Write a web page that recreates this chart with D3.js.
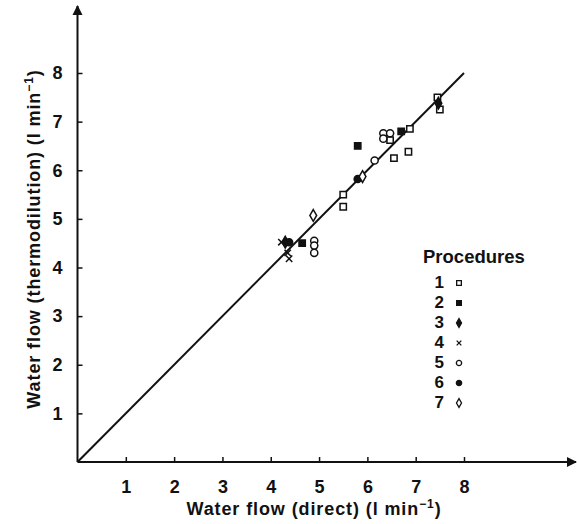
<!DOCTYPE html>
<html>
<head>
<meta charset="utf-8">
<script src="https://cdn.jsdelivr.net/npm/d3@7"></script>
<style>
  body { margin: 0; background: #fff; }
  svg text { font-family: "Liberation Sans", Arial, sans-serif; font-weight: bold; fill: #111; }
</style>
</head>
<body>
<div id="chart"></div>
<script>
// procedures, one array of [direct, thermodilution] pairs each
const procedures = ["1", "2", "3", "4", "5", "6", "7"];
const proc1 = [[5.5, 5.5], [5.5, 5.25], [6.55, 6.25], [6.85, 6.38], [6.47, 6.62], [6.88, 6.85], [7.45, 7.5], [7.5, 7.25]];
const proc2 = [[4.65, 4.5], [5.8, 6.5], [6.7, 6.8]];
const proc3 = [[4.3, 4.52], [7.47, 7.38]];
const proc4 = [[4.22, 4.52], [4.35, 4.3], [4.38, 4.18]];
const proc5 = [[4.9, 4.55], [4.9, 4.45], [4.9, 4.3], [6.15, 6.2], [6.33, 6.76], [6.33, 6.65], [6.47, 6.76]];
const proc6 = [[4.38, 4.52], [5.8, 5.82]];
const proc7 = [[4.88, 5.07], [5.9, 5.87]];
const xTicks = [1, 2, 3, 4, 5, 6, 7, 8];
const yTicks = [1, 2, 3, 4, 5, 6, 7, 8];
const identity = [0, 8];

const series = [proc1, proc2, proc3, proc4, proc5, proc6, proc7];
const markers = [
  { type: d3.symbolSquare, fill: "none" },
  { type: d3.symbolSquare, fill: "#111" },
  { type: d3.symbolDiamond, fill: "#111" },
  { type: d3.symbolTimes, fill: "none" },
  { type: d3.symbolCircle, fill: "none" },
  { type: d3.symbolCircle, fill: "#111" },
  { type: d3.symbolDiamond, fill: "none" }
];

const width = 577, height = 524;
const svg = d3.select("#chart").append("svg")
  .attr("width", width)
  .attr("height", height);

const x = d3.scaleLinear().domain([0, 8]).range([77.5, 464]);
const y = d3.scaleLinear().domain([0, 8]).range([462, 73]);

// arrow head
svg.append("defs").append("marker")
  .attr("id", "arrow")
  .attr("viewBox", "0 0 10 10")
  .attr("refX", 9).attr("refY", 5)
  .attr("markerWidth", 5).attr("markerHeight", 6)
  .attr("orient", "auto")
  .append("path")
  .attr("d", "M0,0 L10,5 L0,10 Z")
  .attr("fill", "#111");

// axes lines
svg.append("line")
  .attr("x1", x(0)).attr("y1", y(0))
  .attr("x2", 576).attr("y2", y(0))
  .attr("stroke", "#111").attr("stroke-width", 2)
  .attr("marker-end", "url(#arrow)");
svg.append("line")
  .attr("x1", x(0)).attr("y1", y(0))
  .attr("x2", x(0)).attr("y2", 6)
  .attr("stroke", "#111").attr("stroke-width", 2)
  .attr("marker-end", "url(#arrow)");

// ticks inward
const xAxis = svg.append("g")
  .attr("transform", `translate(0,${y(0)})`)
  .call(d3.axisBottom(x).tickValues(xTicks).tickSize(-5).tickFormat(d3.format("d")));
xAxis.select(".domain").remove();
xAxis.selectAll("line").attr("stroke", "#111").attr("stroke-width", 1.5);
xAxis.selectAll("text").style("font-size", "18px").attr("dy", null).attr("y", 31);

const yAxis = svg.append("g")
  .attr("transform", `translate(${x(0)},0)`)
  .call(d3.axisLeft(y).tickValues(yTicks).tickSize(-5).tickFormat(d3.format("d")));
yAxis.select(".domain").remove();
yAxis.selectAll("line").attr("stroke", "#111").attr("stroke-width", 1.5);
yAxis.selectAll("text").style("font-size", "18px").attr("x", -15);

// line of identity
svg.append("line")
  .attr("x1", x(identity[0])).attr("y1", y(identity[0]))
  .attr("x2", x(identity[1])).attr("y2", y(identity[1]))
  .attr("stroke", "#111").attr("stroke-width", 2);

// points
series.forEach((pts, i) => {
  const m = markers[i];
  const sym = d3.symbol().type(m.type).size(m.type === d3.symbolTimes ? 28 : 40);
  svg.append("g").selectAll("path")
    .data(pts)
    .enter()
    .append("path")
      .attr("transform", d => `translate(${x(d[0])},${y(d[1])})`)
      .attr("d", sym)
      .attr("fill", m.fill === "none" ? "#fff" : m.fill)
      .attr("stroke", "#111")
      .attr("stroke-width", 1.5);
});

// axis titles
svg.append("text")
  .attr("x", 314).attr("y", 515)
  .attr("text-anchor", "middle")
  .style("font-size", "18px")
  .style("letter-spacing", "0.9px")
  .html("Water flow (direct) (l min<tspan dy='-7' font-size='12px'>−1</tspan><tspan dy='7'>)</tspan>");

svg.append("text")
  .attr("transform", "translate(40,239) rotate(-90)")
  .attr("text-anchor", "middle")
  .style("font-size", "18px")
  .style("letter-spacing", "0.9px")
  .html("Water flow (thermodilution) (l min<tspan dy='-7' font-size='12px'>−1</tspan><tspan dy='7'>)</tspan>");

// legend
const legend = svg.append("g").attr("transform", "translate(423,0)");
legend.append("text")
  .attr("x", 0).attr("y", 263)
  .style("font-size", "18.5px")
  .text("Procedures");

const ly = d3.scaleBand().domain(procedures).range([272, 412]);
procedures.forEach((p, i) => {
  const cy = ly(p) + ly.bandwidth() / 2;
  legend.append("text")
    .attr("x", 21).attr("y", cy + 6)
    .attr("text-anchor", "end")
    .style("font-size", "17px")
    .text(p);
  const m = markers[i];
  legend.append("path")
    .attr("transform", `translate(36,${cy + 1})`)
    .attr("d", d3.symbol().type(m.type).size(m.type === d3.symbolTimes ? 16 : 22))
    .attr("fill", m.fill === "none" ? "#fff" : m.fill)
    .attr("stroke", "#111")
    .attr("stroke-width", 1.3);
});
</script>
</body>
</html>
